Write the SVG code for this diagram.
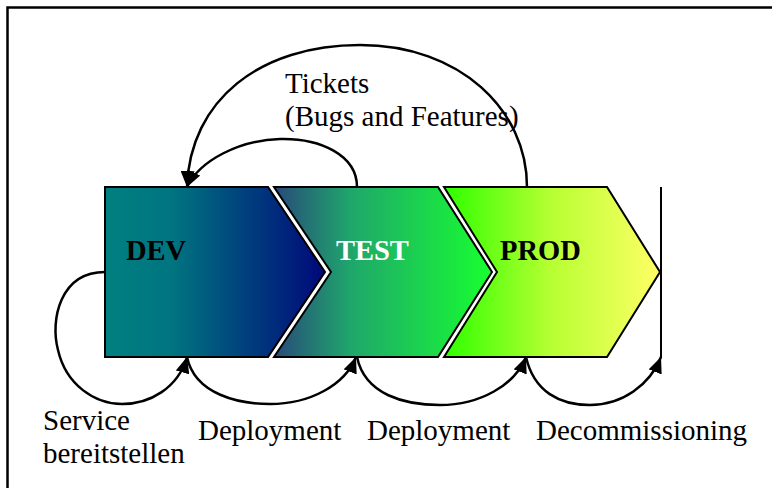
<svg xmlns="http://www.w3.org/2000/svg" width="772" height="488" viewBox="0 0 772 488">
<style>
.lbl{font-family:"Liberation Serif","Times New Roman",serif;font-size:29px;fill:#000}
.ttl{font-family:"Liberation Serif","Times New Roman",serif;font-size:28.5px;font-weight:bold}
.shape{stroke:#000;stroke-width:2;stroke-linejoin:miter}
.con{fill:none;stroke:#000;stroke-width:2.5}
</style>
<defs>
<linearGradient id="gDev" gradientUnits="userSpaceOnUse" x1="105" y1="0" x2="325" y2="0">
<stop offset="0" stop-color="#008080"/>
<stop offset="0.3" stop-color="#007580"/>
<stop offset="1" stop-color="#00087a"/>
</linearGradient>
<linearGradient id="gTest" gradientUnits="userSpaceOnUse" x1="274" y1="0" x2="492" y2="0">
<stop offset="0" stop-color="#284a7a"/>
<stop offset="0.35" stop-color="#1fa66c"/>
<stop offset="1" stop-color="#18ff30"/>
</linearGradient>
<linearGradient id="gProd" gradientUnits="userSpaceOnUse" x1="444" y1="0" x2="660" y2="0">
<stop offset="0" stop-color="#2eff00"/>
<stop offset="0.5" stop-color="#b8ff33"/>
<stop offset="1" stop-color="#ffff66"/>
</linearGradient>
<marker id="arr" markerUnits="userSpaceOnUse" markerWidth="18" markerHeight="14" refX="16" refY="7" orient="auto">
<path d="M0,0 L16,7 L0,14 z" fill="#000"/>
</marker>
</defs>
<path d="M7.5,488 V7.5 H772" fill="none" stroke="#000" stroke-width="2.5"/>
<g id="dev">
<polygon class="shape" fill="url(#gDev)" points="105,187 268,187 325,272 268,357 105,357"/>
<text class="ttl" x="126" y="260" fill="#000">DEV</text>
</g>
<g id="test">
<polygon class="shape" fill="url(#gTest)" points="274,187 438,187 492,272 438,357 274,357 331,272"/>
<text class="ttl" x="336" y="260" fill="#fff">TEST</text>
</g>
<g id="prod">
<polygon class="shape" fill="url(#gProd)" points="444,187 607,187 660,272 607,357 444,357 497,272"/>
<text class="ttl" x="500" y="260" fill="#000">PROD</text>
</g>
<g id="end-line">
<line x1="661" y1="187" x2="661" y2="358" stroke="#000" stroke-width="2"/>
</g>
<g id="connectors">
<path class="con" marker-end="url(#arr)" d="M105,272 C60,272 50,320 58,350 C66,385 95,404 122,404 C150,404 178,388 187,357"/>
<path class="con" marker-end="url(#arr)" d="M187,357 C195,395 240,404 270,404 C310,404 345,385 356,357"/>
<path class="con" marker-end="url(#arr)" d="M357,357 C365,395 405,405 440,405 C480,405 515,385 526,357"/>
<path class="con" marker-end="url(#arr)" d="M526,357 C534,392 560,405 590,405 C622,405 650,385 661,357"/>
<path class="con" marker-end="url(#arr)" d="M357,187 C357,155 320,138 280,139 C240,140 200,160 187,187"/>
<path class="con" marker-end="url(#arr)" d="M527,187 C527,110 460,45 360,45 C260,45 190,100 187,187"/>
</g>
<g id="labels">
<text class="lbl" x="285" y="93">Tickets</text>
<text class="lbl" x="285" y="126">(Bugs and Features)</text>
<text class="lbl" x="43" y="430">Service</text>
<text class="lbl" x="43" y="463">bereitstellen</text>
<text class="lbl" x="198" y="440">Deployment</text>
<text class="lbl" x="367" y="440">Deployment</text>
<text class="lbl" x="536" y="440">Decommissioning</text>
</g>
</svg>
